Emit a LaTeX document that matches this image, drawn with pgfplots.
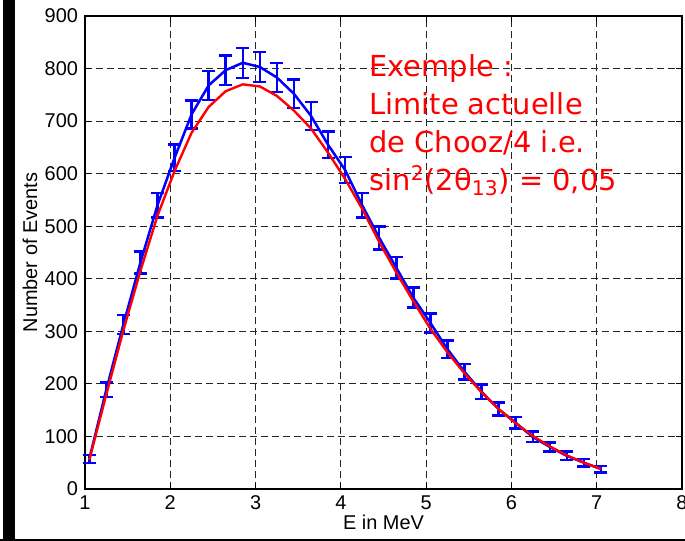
\documentclass[border=0pt]{standalone}
\usepackage{fontspec}
\setmainfont{Liberation Sans}
\newfontfamily\comic{DejaVu Sans}
\usepackage{pgfplots}
\usepackage{pgfplotstable}
\pgfplotsset{compat=1.18}

% measured spectrum (no oscillation), with sqrt(N) errors
\pgfplotstableread{
x    y    err
1.05 57   7.5
1.25 189  13.7
1.45 313  17.7
1.65 431  20.8
1.85 540  23.2
2.05 630  25.1
2.25 713  26.7
2.45 768  27.7
2.65 797  28.2
2.85 811  28.5
3.05 803  28.3
3.25 783  28.0
3.45 752  27.4
3.65 710  26.6
3.85 655  25.6
4.05 607  24.6
4.25 540  23.2
4.45 478  21.9
4.65 421  20.5
4.85 364  19.1
5.05 316  17.8
5.25 266  16.3
5.45 223  14.9
5.65 185  13.6
5.85 152  12.3
6.05 126  11.2
6.25 99   10.0
6.45 80   8.9
6.65 63   7.9
6.85 50   7.1
7.05 38   6.2
}\measured

% expected spectrum with sin^2(2theta13)=0.05
\pgfplotstableread{
x    y
1.05 55
1.25 180
1.45 302
1.65 415
1.85 520
2.05 605
2.25 678
2.45 727
2.65 757
2.85 770
3.05 766
3.25 748
3.45 720
3.65 686
3.85 640
4.05 590
4.25 533
4.45 470
4.65 412
4.85 357
5.05 305
5.25 260
5.45 220
5.65 184
5.85 152
6.05 125
6.25 101
6.45 81
6.65 64
6.85 50
7.05 38
}\oscill

\begin{document}
\begin{tikzpicture}
\begin{axis}[
  at={(0,0)}, anchor=south west,
  scale only axis, width=298.5bp, height=236.5bp,
  xmin=1, xmax=8, ymin=0, ymax=900,
  xtick={1,2,...,8}, ytick={0,100,...,900},
  grid=major,
  major grid style={black!85, line width=0.55bp, dash pattern=on 3.5bp off 2bp},
  axis line style={black, line width=0.8bp},
  tick align=inside, major tick length=3bp,
  tick style={black, line width=0.5bp},
  font=\fontsize{10}{12}\selectfont,
  /pgf/number format/assume math mode=true,
  xlabel={E in MeV}, ylabel={Number of Events},
  xlabel style={at={(axis description cs:0.5,-0.0698)}, anchor=center},
  ylabel style={at={(axis description cs:-0.0921,0.5)}, anchor=center},
  clip=false,
]
\addplot[blue, line width=1.25bp, mark=none,
  error bars/.cd, y dir=both, y explicit,
  error bar style={blue, line width=1.25bp},
  error mark options={blue, mark size=3.25bp, line width=1.25bp, rotate=90}]
  table[x=x, y=y, y error=err] {\measured};
\addplot[red, line width=1.2bp, mark=none] table[x=x, y=y] {\oscill};

\begin{scope}[every node/.style={anchor=base west, text=red, font=\comic\fontsize{14.5}{17}\selectfont, inner sep=0pt}]
\node at (axis cs:4.33,784) {Exemple :};
\node at (axis cs:4.33,712) {Limite actuelle};
\node at (axis cs:4.33,640) {de Chooz/4 i.e.};
\node at (axis cs:4.33,568) {sin\textsuperscript{2}(2θ\textsubscript{13}) = 0,05};
\end{scope}
\end{axis}
\fill[black] (-41bp,-26bp) rectangle (-35bp,244.5bp);
\fill[black] (-42.5bp,-26bp) rectangle (300bp,-24.8bp);
\pgfresetboundingbox
\path[use as bounding box] (-42.5bp,-26bp) rectangle (300bp,244.5bp);
\end{tikzpicture}
\end{document}
